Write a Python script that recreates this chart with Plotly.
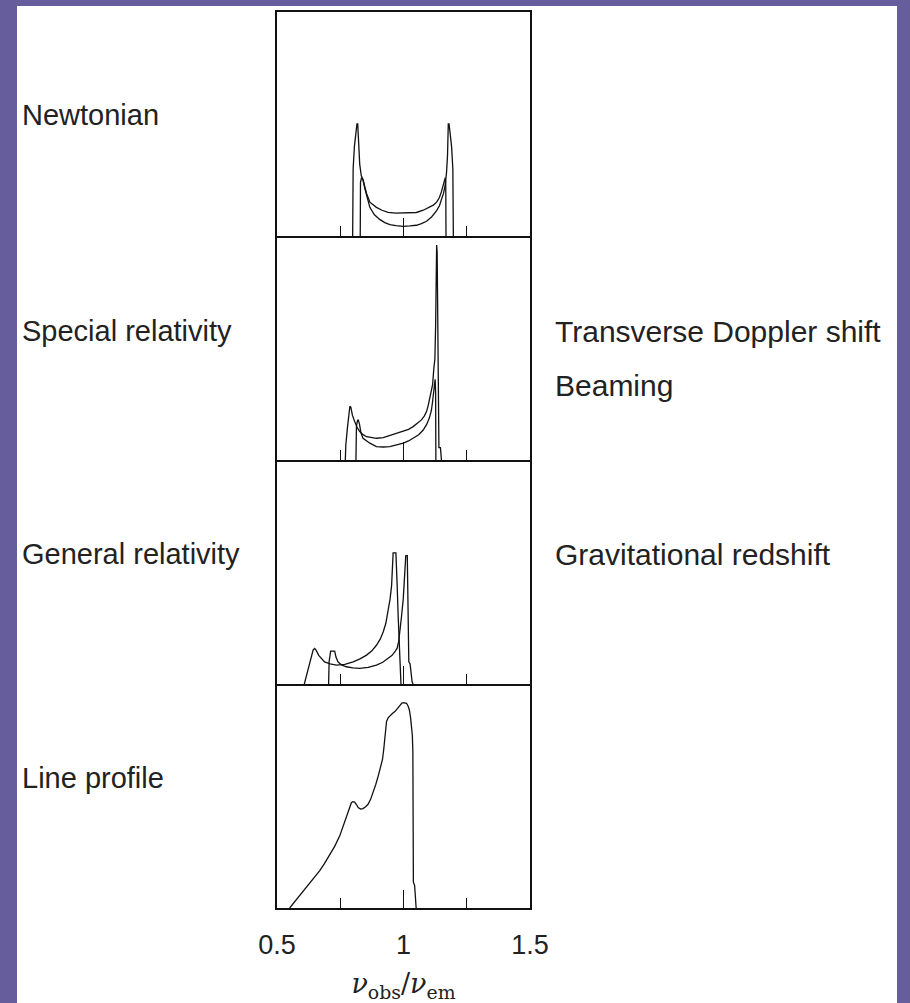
import plotly.graph_objects as go
from plotly.subplots import make_subplots

# ---------------- data ----------------
panel_names = ["Newtonian", "Special relativity", "General relativity", "Line profile"]
right_labels = ["Transverse Doppler shift", "Beaming", "Gravitational redshift"]
major_ticks = [0.5, 1.0, 1.5]
major_text = ["0.5", "1", "1.5"]
minor_ticks = [0.75, 1.25]

# Newtonian: broad annulus (tall horns) and narrow annulus
newt_broad_x = [0.799, 0.801, 0.806, 0.812, 0.816, 0.819, 0.822, 0.827, 0.833, 0.840, 0.847, 0.857,
                0.867, 0.885, 0.906, 0.926, 0.946, 0.970, 0.999, 1.025, 1.051, 1.071, 1.091, 1.111,
                1.131, 1.142, 1.150, 1.158, 1.164, 1.170, 1.174, 1.177, 1.180, 1.184, 1.190, 1.195, 1.197]
newt_broad_y = [0.0, 0.30, 0.40, 0.46, 0.50, 0.50, 0.42, 0.32, 0.27, 0.25, 0.213, 0.165,
                0.128, 0.095, 0.074, 0.060, 0.051, 0.046, 0.043, 0.045, 0.048, 0.055, 0.066, 0.085,
                0.113, 0.135, 0.159, 0.19, 0.221, 0.283, 0.36, 0.50, 0.50, 0.46, 0.40, 0.30, 0.0]
newt_narrow_x = [0.829, 0.830, 0.834, 0.840, 0.847, 0.854, 0.867, 0.880, 0.893, 0.915, 0.939, 0.970,
                 0.999, 1.025, 1.051, 1.078, 1.104, 1.118, 1.131, 1.142, 1.150, 1.156, 1.160, 1.165,
                 1.167, 1.168]
newt_narrow_y = [0.0, 0.24, 0.26, 0.252, 0.22, 0.19, 0.151, 0.138, 0.128, 0.115, 0.105, 0.102,
                 0.102, 0.103, 0.105, 0.115, 0.128, 0.138, 0.151, 0.172, 0.198, 0.22, 0.236, 0.26,
                 0.24, 0.0]

# Special relativity
sr_broad_x = [0.770, 0.772, 0.778, 0.783, 0.788, 0.792, 0.798, 0.807, 0.817, 0.827, 0.840, 0.854,
              0.873, 0.893, 0.920, 0.946, 0.972, 0.999, 1.020, 1.038, 1.055, 1.071, 1.082, 1.091,
              1.098, 1.104, 1.110, 1.115, 1.120, 1.124, 1.127, 1.129, 1.131, 1.133, 1.135, 1.137,
              1.140, 1.146, 1.150]
sr_broad_y = [0.0, 0.067, 0.14, 0.20, 0.24, 0.235, 0.20, 0.172, 0.145, 0.127, 0.113, 0.104,
              0.099, 0.097, 0.100, 0.109, 0.117, 0.127, 0.137, 0.149, 0.163, 0.179, 0.196, 0.216,
              0.245, 0.276, 0.31, 0.336, 0.41, 0.45, 0.60, 0.85, 0.96, 0.93, 0.60, 0.10,
              0.055, 0.055, 0.0]
sr_narrow_x = [0.812, 0.814, 0.818, 0.821, 0.826, 0.832, 0.840, 0.853, 0.867, 0.893, 0.920, 0.946,
               0.972, 0.999, 1.020, 1.038, 1.060, 1.078, 1.092, 1.102, 1.110, 1.115, 1.120, 1.123,
               1.125, 1.127, 1.128]
sr_narrow_y = [0.0, 0.15, 0.175, 0.18, 0.16, 0.12, 0.097, 0.085, 0.075, 0.060, 0.058, 0.060,
               0.066, 0.075, 0.085, 0.097, 0.113, 0.134, 0.16, 0.187, 0.22, 0.261, 0.31, 0.351,
               0.36, 0.30, 0.0]

# General relativity
gr_broad_x = [0.608, 0.615, 0.625, 0.635, 0.643, 0.649, 0.655, 0.665, 0.677, 0.688, 0.710, 0.735,
              0.768, 0.801, 0.828, 0.854, 0.875, 0.893, 0.908, 0.920, 0.930, 0.939, 0.947, 0.953,
              0.957, 0.959, 0.970, 0.973, 0.975, 0.979, 0.983, 0.987, 0.990]
gr_broad_y = [0.0, 0.03, 0.08, 0.125, 0.152, 0.159, 0.150, 0.128, 0.110, 0.099, 0.090, 0.084,
              0.088, 0.099, 0.112, 0.129, 0.148, 0.173, 0.200, 0.233, 0.27, 0.321, 0.38, 0.44,
              0.53, 0.585, 0.585, 0.52, 0.44, 0.30, 0.17, 0.12, 0.0]
gr_narrow_x = [0.704, 0.706, 0.712, 0.719, 0.728, 0.733, 0.741, 0.755, 0.774, 0.800, 0.827, 0.860,
               0.893, 0.918, 0.939, 0.955, 0.966, 0.975, 0.981, 0.986, 0.992, 0.999, 1.003, 1.006,
               1.009, 1.015, 1.017, 1.019, 1.021, 1.026, 1.030, 1.034, 1.038]
gr_narrow_y = [0.0, 0.10, 0.147, 0.147, 0.147, 0.12, 0.099, 0.085, 0.077, 0.072, 0.070, 0.074,
               0.084, 0.097, 0.114, 0.128, 0.144, 0.16, 0.19, 0.233, 0.30, 0.38, 0.45, 0.52,
               0.573, 0.573, 0.45, 0.30, 0.10, 0.09, 0.04, 0.01, 0.0]

# Integrated line profile
prof_x = [0.550, 0.570, 0.590, 0.610, 0.629, 0.649, 0.669, 0.688, 0.708, 0.728, 0.748, 0.762,
          0.774, 0.785, 0.794, 0.800, 0.807, 0.814, 0.821, 0.830, 0.840, 0.850, 0.860, 0.870,
          0.880, 0.890, 0.900, 0.910, 0.917, 0.922, 0.926, 0.930, 0.933, 0.940, 0.946, 0.956,
          0.966, 0.976, 0.986, 0.993, 0.999, 1.006, 1.012, 1.018, 1.023, 1.028, 1.032, 1.035,
          1.037, 1.038, 1.039, 1.044, 1.047, 1.050]
prof_y = [0.0, 0.028, 0.056, 0.082, 0.108, 0.137, 0.167, 0.199, 0.234, 0.275, 0.322, 0.365,
          0.411, 0.445, 0.470, 0.475, 0.473, 0.462, 0.448, 0.442, 0.444, 0.452, 0.463, 0.485,
          0.515, 0.550, 0.589, 0.630, 0.663, 0.71, 0.759, 0.80, 0.833, 0.850, 0.858, 0.868,
          0.877, 0.890, 0.907, 0.914, 0.917, 0.917, 0.914, 0.902, 0.885, 0.85, 0.811, 0.77,
          0.70, 0.40, 0.115, 0.10, 0.05, 0.0]

# ---------------- figure ----------------
W, H = 910, 1003
ML, MR, MT, MB = 277, 380, 12, 95
PW, PH = W - ML - MR, H - MT - MB
INK = "#111111"
PURPLE = "#665e9c"

fig = make_subplots(rows=4, cols=1, shared_xaxes=True, vertical_spacing=0)

curves = [
    (1, newt_broad_x, newt_broad_y), (1, newt_narrow_x, newt_narrow_y),
    (2, sr_broad_x, sr_broad_y), (2, sr_narrow_x, sr_narrow_y),
    (3, gr_broad_x, gr_broad_y), (3, gr_narrow_x, gr_narrow_y),
    (4, prof_x, prof_y),
]
for row, xs, ys in curves:
    fig.add_trace(go.Scatter(x=xs, y=ys, mode="lines", line=dict(color=INK, width=1.3),
                             showlegend=False, hoverinfo="skip"), row=row, col=1)

for r in range(1, 5):
    fig.update_yaxes(range=[0, 1], showticklabels=False, ticks="", showgrid=False, zeroline=False,
                     showline=True, mirror=True, linecolor=INK, linewidth=1.6, row=r, col=1)
    fig.update_xaxes(range=[0.5, 1.5], showgrid=False, zeroline=False, showline=True,
                     mirror=(r == 1),
                     linecolor=INK, linewidth=1.6, ticks="inside", ticklen=18, tickwidth=1.3,
                     tickcolor=INK, tickmode="array", tickvals=major_ticks, ticktext=major_text,
                     minor=dict(ticks="inside", ticklen=10, tickwidth=1.3, tickcolor=INK,
                                tickmode="array", tickvals=minor_ticks),
                     row=r, col=1)

fig.update_xaxes(showticklabels=True, tickfont=dict(family="Liberation Sans", size=27, color="#222"),
                 ticklabelstandoff=12,
                 title=dict(text="<i>ν</i><sub>obs</sub>/<i>ν</i><sub>em</sub>",
                            font=dict(family="DejaVu Serif", size=27, color="#222"), standoff=20),
                 row=4, col=1)


def px_x(p):
    return (p - ML) / PW


def px_y(p):
    return (H - MB - p) / PH


annos = []
left_y = [115, 331, 554, 778]
for name, yy in zip(panel_names, left_y):
    annos.append(dict(text=name, x=px_x(20), y=px_y(yy), xref="paper", yref="paper",
                      xanchor="left", yanchor="middle", showarrow=False,
                      font=dict(family="Liberation Sans", size=29, color="#222")))
right_y = [331, 385, 554]
for name, yy in zip(right_labels, right_y):
    annos.append(dict(text=name, x=px_x(553), y=px_y(yy), xref="paper", yref="paper",
                      xanchor="left", yanchor="middle", showarrow=False,
                      font=dict(family="Liberation Sans", size=30, color="#222")))

fig.update_layout(
    width=W, height=H,
    margin=dict(l=ML, r=MR, t=MT, b=MB, autoexpand=False),
    paper_bgcolor=PURPLE, plot_bgcolor="white",
    annotations=annos,
    shapes=[dict(type="rect", xref="paper", yref="paper", layer="below",
                 x0=px_x(17), x1=px_x(897), y0=px_y(1020), y1=px_y(6),
                 fillcolor="white", line=dict(width=0))],
)

fig.write_html("out.html", config={"displayModeBar": False},
               post_script="document.body.style.margin='0';document.body.style.overflow='hidden';")
